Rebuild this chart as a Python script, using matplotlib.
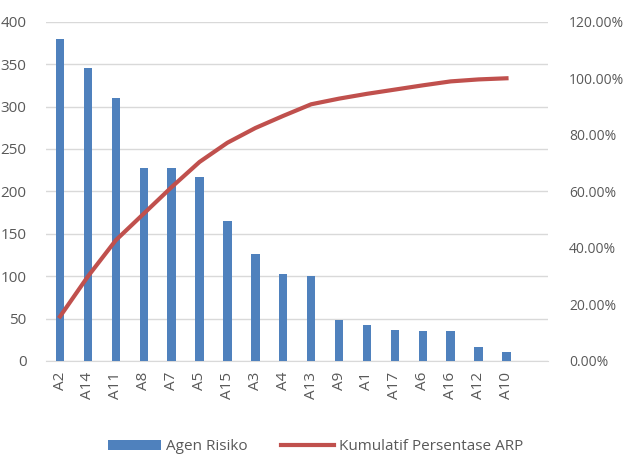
import numpy as np
import matplotlib
matplotlib.use('Agg')
import matplotlib.pyplot as plt
from matplotlib.ticker import FuncFormatter

# data
agents = ['A2', 'A14', 'A11', 'A8', 'A7', 'A5', 'A15', 'A3', 'A4', 'A13',
          'A9', 'A1', 'A17', 'A6', 'A16', 'A12', 'A10']
arp = [380, 345, 310, 228, 228, 217, 165, 126, 103, 100,
       48, 42, 37, 35, 35, 16, 10]
cum_pct = [15.7, 29.9, 42.7, 52.1, 61.5, 70.4, 77.2, 82.4, 86.7, 90.8,
           92.8, 94.5, 96.0, 97.5, 98.9, 99.6, 100.0]

plt.rcParams['font.family'] = ['Open Sans', 'DejaVu Sans']
grey = '#595959'
fs = 11

fig = plt.figure(figsize=(6.31, 4.73), dpi=100)
ax = fig.add_axes([0.073, 0.237, 0.796, 0.717])
x = np.arange(len(agents))

bars = ax.bar(x, arp, width=0.3, color='#4F81BD', label='Agen Risiko', zorder=3)
ax.set_ylim(0, 400)
ax.set_yticks(np.arange(0, 401, 50))
ax.set_xlim(-0.5, 17.5)
ax.set_xticks(x)
ax.set_xticklabels(agents, rotation=90)
ax.grid(axis='y', color='#D9D9D9', linewidth=1, zorder=0)
for s in ['top', 'right', 'left']:
    ax.spines[s].set_visible(False)
ax.spines['bottom'].set_color('#D9D9D9')
ax.tick_params(length=0, colors=grey, labelsize=fs)
ax.tick_params(axis='y', pad=14)
ax.tick_params(axis='x', pad=8)

ax2 = ax.twinx()
line, = ax2.plot(x, cum_pct, color='#C0504D', linewidth=3,
                 label='Kumulatif Persentase ARP', zorder=4)
ax2.set_ylim(0, 120)
ax2.set_yticks(np.arange(0, 121, 20))
ax2.yaxis.set_major_formatter(FuncFormatter(lambda v, p: '%.2f%%' % v))
for s in ax2.spines.values():
    s.set_visible(False)
ax2.tick_params(length=0, colors=grey, labelsize=10, pad=15)

fig.legend([bars, line], ['Agen Risiko', 'Kumulatif Persentase ARP'],
           loc='center', bbox_to_anchor=(0.5, 0.055), ncol=2, frameon=False,
           fontsize=fs, labelcolor=grey, handlelength=3.5, columnspacing=2.2,
           handletextpad=0.3)

fig.savefig('out.png', dpi=100)
